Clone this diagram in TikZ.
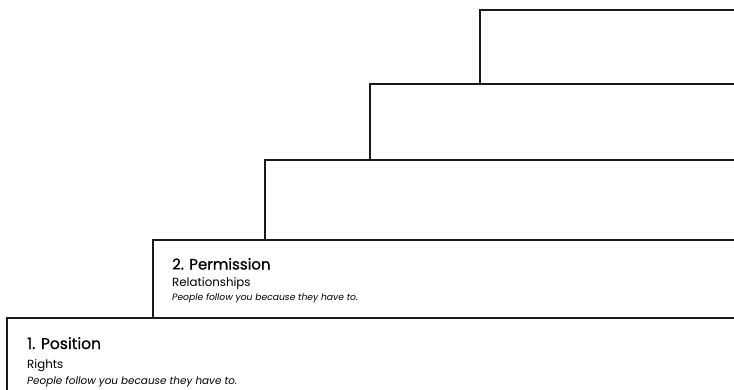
\documentclass[tikz,border=0pt]{standalone}
\usepackage{fontspec}
\setmainfont{Poppins}
\newfontfamily\ttlfont{Poppins}[FakeBold=0.8]
\begin{document}
\begin{tikzpicture}[x=1pt,y=-1pt,
  stepbox/.style={draw=black!90, line width=1.3pt, fill=white},
  ttl/.style={anchor=base west, inner sep=0pt, font=\ttlfont\fontsize{15}{17}\selectfont},
  sub/.style={anchor=base west, inner sep=0pt, font=\fontsize{11.8}{13}\selectfont},
  note/.style={anchor=base west, inner sep=0pt, font=\itshape\fontsize{9.2}{11}\selectfont}]
\useasboundingbox (0,0) rectangle (734,390);
\draw[stepbox] (480,10) rectangle (760,84);
\draw[stepbox] (370,84) rectangle (760,160);
\draw[stepbox] (265,160) rectangle (760,240);
\draw[stepbox] (153,240) rectangle (760,318);
\draw[stepbox] (7,318) rectangle (760,400);
\node[ttl] (t2) at (172,269.5) {2. Permission};
\node[sub] (s2) at (172,286.5) {Relationships};
\node[note] (n2) at (172,300.5) {People follow you because they have to.};
\node[ttl,font=\ttlfont\fontsize{15.5}{17}\selectfont] (t1) at (27,349) {1. Position};
\node[sub] (s1) at (27,368.5) {Rights};
\node[note,font=\itshape\fontsize{10.4}{12}\selectfont] (n1) at (27,384.5) {People follow you because they have to.};
\end{tikzpicture}
\end{document}
